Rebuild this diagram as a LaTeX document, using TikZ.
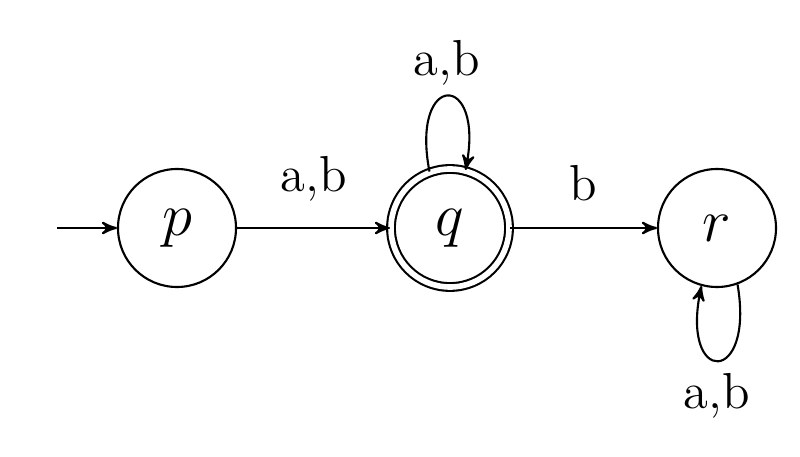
\documentclass[tikz,border=0pt]{standalone}
\usepackage{tikz}
\usetikzlibrary{arrows,positioning,automata}

\tikzset{
  state/.style={circle,draw,semithick,minimum size=1.18cm,inner sep=0pt,font=\LARGE},
  accept/.style={double,double distance=1.6pt},
  edge/.style={->,>=stealth',semithick},
  lbl/.style={font=\Large}
}

\begin{document}
\begin{tikzpicture}
\useasboundingbox (0,0) rectangle (8,4.56);
% states
\node[state] (p) at (1.77,2.28) {$p$};
\node[state,accept] (q) at (4.50,2.28) {$q$};
\node[state] (r) at (7.17,2.28) {$r$};
\coordinate (start) at (0.57,2.28);

% transitions
\draw[edge] (start) -- (p);
\draw[edge] (p) -- node[lbl,above=4pt] {a,b} (q);
\draw[edge] (q) -- node[lbl,above=4pt] {b} (r);
\draw[edge] (q.110) .. controls (4.10,3.85) and (4.85,3.85) .. (q.75);
\node[lbl] (qloop) at (4.47,3.93) {a,b};
\draw[edge] (r.290) .. controls (7.55,0.70) and (6.80,0.70) .. (r.255);
\node[lbl] (rloop) at (7.17,0.60) {a,b};
\end{tikzpicture}
\end{document}
